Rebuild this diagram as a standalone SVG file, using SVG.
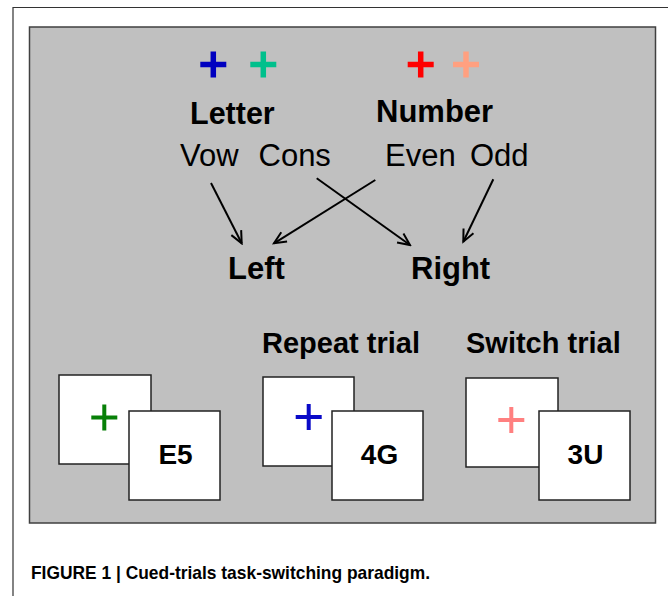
<svg xmlns="http://www.w3.org/2000/svg" width="668" height="596" viewBox="0 0 668 596">
<style>
.b{font-family:"Liberation Sans",Arial,sans-serif;font-weight:bold;fill:#000}
.r{font-family:"Liberation Sans",Arial,sans-serif;fill:#000}
.card{fill:#fff;stroke:#222;stroke-width:1.5}
.arr{stroke:#000;stroke-width:2;fill:none;marker-end:url(#ah)}
</style>
<defs>
<marker id="ah" markerUnits="userSpaceOnUse" viewBox="-14 -7 16 14" refX="0" refY="0" markerWidth="16" markerHeight="14" orient="auto">
<path d="M-12,-5.5 L0,0 L-12,5.5" fill="none" stroke="#000" stroke-width="2"/>
</marker>
</defs>
<rect width="668" height="596" fill="#fff"/>
<path d="M13,596 V7.5 H668" fill="none" stroke="#333" stroke-width="1.2"/>
<rect x="29.5" y="27" width="626" height="496" fill="#c0c0c0" stroke="#404040" stroke-width="1.5"/>

<g id="cues">
<path d="M200.3,64.5 h26 M213.3,51.5 v26" stroke="#0000c0" stroke-width="5.5"/>
<path d="M250.3,64.5 h26 M263.3,51.5 v26" stroke="#00c08c" stroke-width="5.5"/>
<path d="M407.7,64.5 h26 M420.7,51.5 v26" stroke="#ff0000" stroke-width="5.5"/>
<path d="M453,64.5 h26 M466,51.5 v26" stroke="#ffa080" stroke-width="5.5"/>
</g>
<g id="letter"><text class="b" x="190" y="124" font-size="30.5">Letter</text></g>
<g id="number"><text class="b" x="376" y="122" font-size="31">Number</text></g>
<g id="vow"><text class="r" x="180" y="166" font-size="31">Vow</text></g>
<g id="cons"><text class="r" x="258.5" y="166" font-size="31">Cons</text></g>
<g id="even"><text class="r" x="385" y="166" font-size="31">Even</text></g>
<g id="odd"><text class="r" x="470" y="166" font-size="31">Odd</text></g>
<g id="left"><text class="b" x="228" y="279" font-size="31">Left</text></g>
<g id="right"><text class="b" x="411" y="279" font-size="31">Right</text></g>

<g id="connectors">
<line class="arr" x1="211" y1="183" x2="241.7" y2="243.3"/>
<line class="arr" x1="316.7" y1="178.3" x2="410" y2="245"/>
<line class="arr" x1="375.3" y1="180" x2="274" y2="243.3"/>
<line class="arr" x1="493.3" y1="179.3" x2="463.3" y2="241.7"/>
</g>

<g id="repeat-label"><text class="b" x="262" y="353" font-size="29">Repeat trial</text></g>
<g id="switch-label"><text class="b" x="466" y="353" font-size="29">Switch trial</text></g>

<g id="trial1">
<rect class="card" x="59" y="375" width="92" height="89"/>
<path d="M91.3,417.5 h26 M104.3,404.5 v26" stroke="#088008" stroke-width="4"/>
<rect class="card" x="129" y="411" width="91" height="89"/>
<text class="b" x="175.5" y="464" font-size="28" text-anchor="middle">E5</text>
</g>
<g id="trial2">
<rect class="card" x="263" y="377" width="91" height="89"/>
<path d="M295.7,417 h26 M308.7,404 v26" stroke="#0a0ac8" stroke-width="4"/>
<rect class="card" x="332" y="411" width="91" height="89"/>
<text class="b" x="379.5" y="464" font-size="28" text-anchor="middle">4G</text>
</g>
<g id="trial3">
<rect class="card" x="466" y="378" width="92" height="89"/>
<path d="M498.3,420 h26 M511.3,407 v26" stroke="#ff8080" stroke-width="4"/>
<rect class="card" x="539" y="411" width="91" height="89"/>
<text class="b" x="585.5" y="464" font-size="28" text-anchor="middle">3U</text>
</g>

<g id="caption"><text class="b" x="31" y="579" font-size="18.6" textLength="399" lengthAdjust="spacingAndGlyphs">FIGURE 1 | Cued-trials task-switching paradigm.</text></g>
</svg>
